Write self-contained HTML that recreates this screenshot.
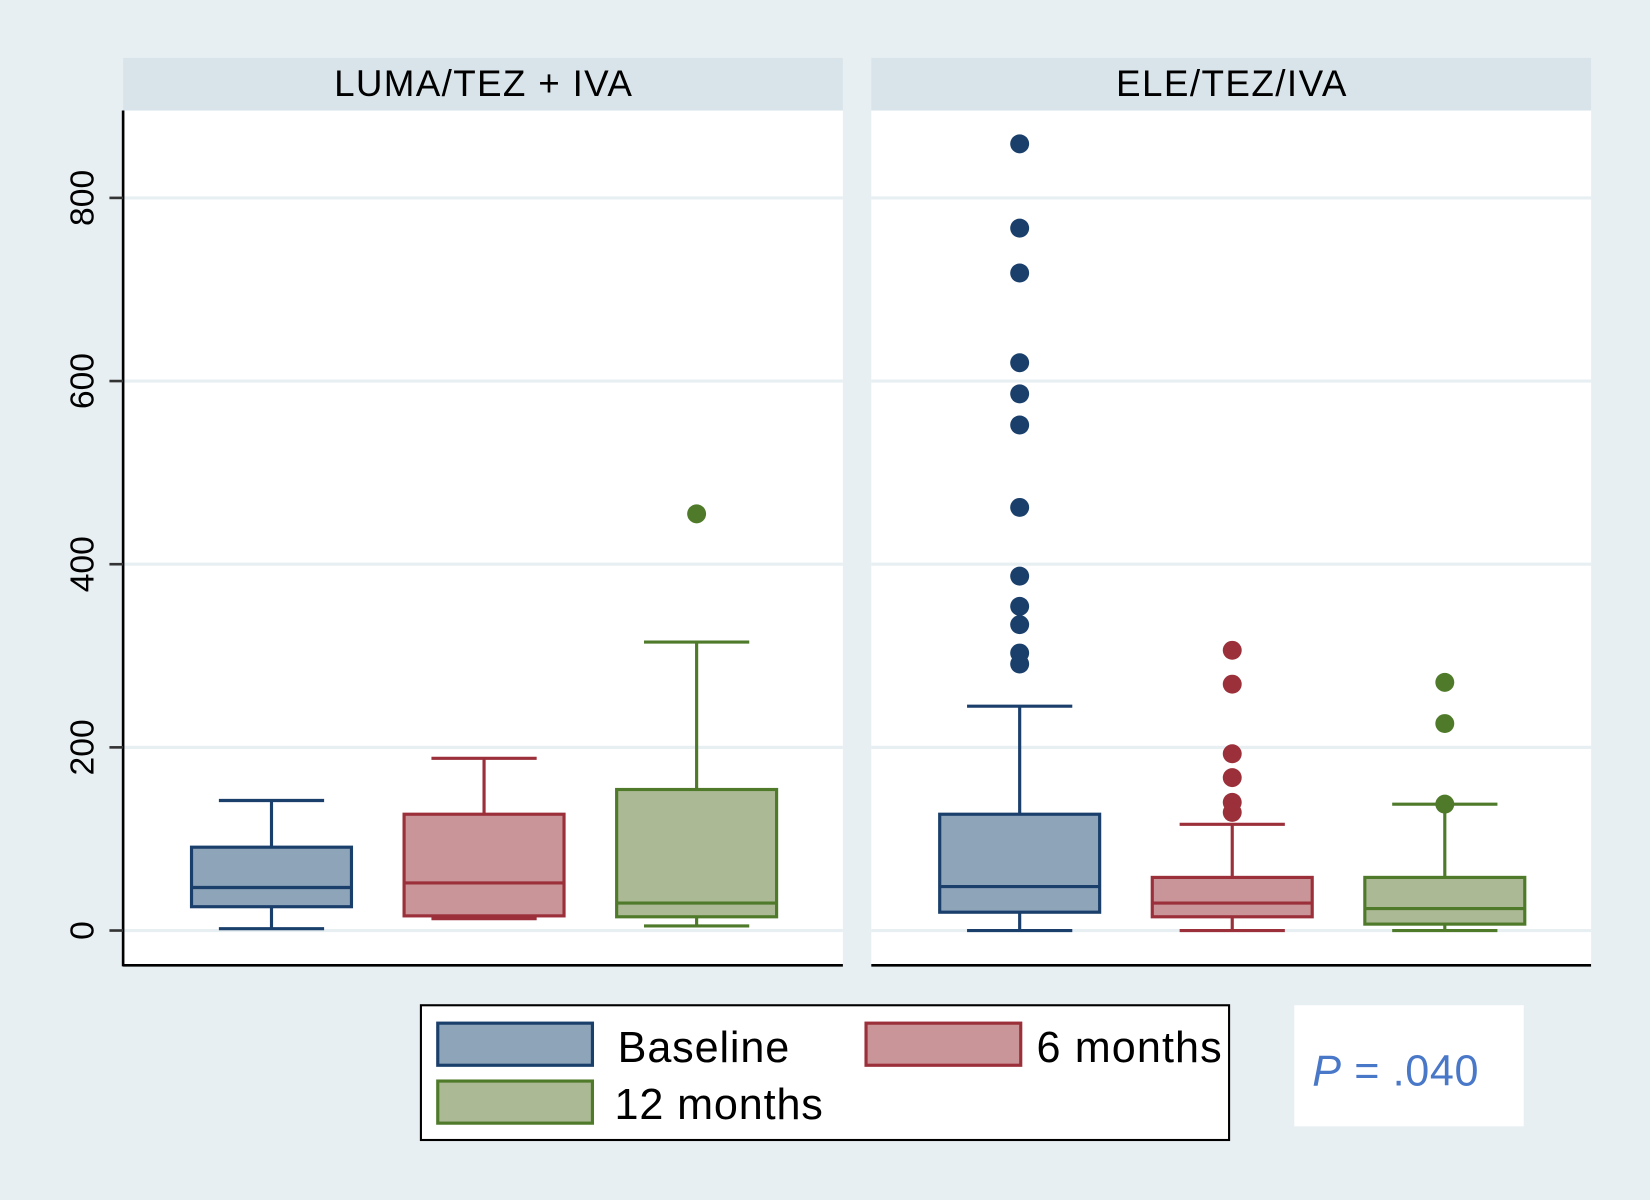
<!DOCTYPE html>
<html><head><meta charset="utf-8"><style>
html,body{margin:0;padding:0;background:#e8eff3;}
svg{display:block;font-family:"Liberation Sans",sans-serif;}
</style></head><body>
<svg id="chart" width="1650" height="1200" viewBox="0 0 1568 1140" preserveAspectRatio="none" xmlns="http://www.w3.org/2000/svg">
<rect x="0" y="0" width="1568" height="1140" fill="#e8eff3"/>
<g id="plot"></g>
<g>
<rect x="400" y="955" width="768" height="128" fill="#fff" stroke="#000" stroke-width="2"/>
<rect x="416" y="972" width="147" height="40" fill="#8da4b9" stroke="#1a3f6b" stroke-width="3"/>
<text x="587" y="1009" font-size="41" textLength="163">Baseline</text>
<rect x="823" y="972" width="147" height="40" fill="#c99598" stroke="#9b2f3a" stroke-width="3"/>
<text x="985" y="1009" font-size="41" textLength="176">6 months</text>
<rect x="416" y="1027" width="147" height="40" fill="#abb995" stroke="#4e7a2a" stroke-width="3"/>
<text x="584" y="1063" font-size="41" textLength="198">12 months</text>
</g>
<g>
<rect x="1230" y="955" width="218" height="115" fill="#fff"/>
<text x="1247" y="1031" font-size="41" fill="#4a78c8" textLength="158"><tspan font-style="italic">P</tspan> = .040</text>
</g>
</svg>
<script>
const panels = ["LUMA/TEZ + IVA", "ELE/TEZ/IVA"];
const groups = ["Baseline", "6 months", "12 months"];
const yTicks = [0, 200, 400, 600, 800];
// [lowerWhisker, Q1, median, Q3, upperWhisker] per panel/group
const lumaStats = [[2, 26, 47, 91, 142], [13, 16, 52, 127, 188], [5, 15, 30, 154, 315]];
const eleStats = [[0, 20, 48, 127, 245], [0, 15, 30, 58, 116], [0, 7, 24, 58, 138]];
const lumaOutliers = [[], [], [455]];
const eleOutliers = [[859, 767, 718, 620, 586, 552, 462, 387, 354, 334, 303, 291], [306, 269, 193, 167, 140, 129], [138, 271, 226]];

const NS = "http://www.w3.org/2000/svg";
const plot = document.getElementById("plot");
const strokes = ["#1a3f6b", "#9b2f3a", "#4e7a2a"];
const fills = ["#8da4b9", "#c99598", "#abb995"];
const panelX = [117, 828], panelW = 684;
const titleLens = [283, 219];
const y = v => 884 - v * 0.87;
function el(tag, attrs, parent) {
  const e = document.createElementNS(NS, tag);
  for (const k in attrs) e.setAttribute(k, attrs[k]);
  (parent || plot).appendChild(e);
  return e;
}
const stats = [lumaStats, eleStats], outs = [lumaOutliers, eleOutliers];
panels.forEach((title, p) => {
  const x0 = panelX[p];
  const g = el("g", {});
  
  
  el("rect", {x: x0, y: 105, width: panelW, height: 812, fill: "#fff"}, g);
  const hd = el("rect", {x: x0, y: 55, width: panelW, height: 50, fill: "#d9e4ea"}, g);
  
  
  const t = el("text", {x: x0 + panelW / 2, y: 91, "font-size": 35, "text-anchor": "middle", textLength: titleLens[p]}, g);
  t.textContent = title;
  
  
  yTicks.forEach(v => {
    const gl = el("line", {x1: x0, x2: x0 + panelW, y1: y(v), y2: y(v), stroke: "#e8eff3", "stroke-width": 3}, g);
    
    
  });
  const ax = el("line", {x1: x0, x2: x0 + panelW, y1: 917, y2: 917, stroke: "#000", "stroke-width": 2.5}, g);
  
  
  groups.forEach((gr, i) => {
    const cx = x0 + 141 + i * 202;
    const s = stats[p][i], c = strokes[i];
    const bg = el("g", {}, g);
    
    
    el("line", {x1: cx, x2: cx, y1: y(s[0]), y2: y(s[1]), stroke: c, "stroke-width": 3}, bg);
    el("line", {x1: cx, x2: cx, y1: y(s[3]), y2: y(s[4]), stroke: c, "stroke-width": 3}, bg);
    el("line", {x1: cx - 50, x2: cx + 50, y1: y(s[0]), y2: y(s[0]), stroke: c, "stroke-width": 3}, bg);
    el("line", {x1: cx - 50, x2: cx + 50, y1: y(s[4]), y2: y(s[4]), stroke: c, "stroke-width": 3}, bg);
    el("rect", {x: cx - 76, y: y(s[3]), width: 152, height: y(s[1]) - y(s[3]), fill: fills[i], stroke: c, "stroke-width": 3}, bg);
    el("line", {x1: cx - 76, x2: cx + 76, y1: y(s[2]), y2: y(s[2]), stroke: c, "stroke-width": 3}, bg);
    outs[p][i].forEach(v => {
      const d = el("circle", {cx: cx, cy: y(v), r: 9, fill: c}, bg);
      
      
    });
  });
});
const ya = el("line", {x1: 117, x2: 117, y1: 105, y2: 918, stroke: "#000", "stroke-width": 2.5});


yTicks.forEach(v => {
  el("line", {x1: 104, x2: 117, y1: y(v), y2: y(v), stroke: "#333", "stroke-width": 2.5});
  const t = el("text", {x: 89, y: y(v), "font-size": 32, "text-anchor": "middle", transform: `rotate(-90 89 ${y(v)})`});
  t.textContent = v;
  
  
});
</script>
</body></html>
